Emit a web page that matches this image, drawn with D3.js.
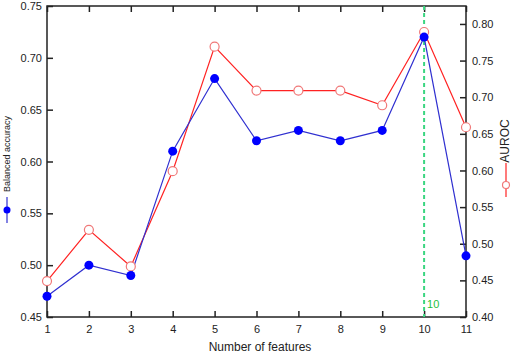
<!DOCTYPE html>
<html><head><meta charset="utf-8">
<script src="https://cdn.jsdelivr.net/npm/d3@7"></script>
<style>body{margin:0;background:#fff}svg{display:block}text{font-family:"Liberation Sans",Arial,sans-serif}</style>
</head><body><svg id="c" width="512" height="356"></svg>
<script>
const features = [1,2,3,4,5,6,7,8,9,10,11];
const balancedAccuracy = [0.47,0.50,0.49,0.61,0.68,0.62,0.63,0.62,0.63,0.72,0.509];
const auroc = [0.449,0.519,0.469,0.599,0.769,0.709,0.709,0.709,0.689,0.789,0.659];
const leftTicks = [0.45,0.50,0.55,0.60,0.65,0.70,0.75];
const rightTicks = [0.40,0.45,0.50,0.55,0.60,0.65,0.70,0.75,0.80];
const bestFeature = 10;

const svg = d3.select("#c");
const L=47,R=466,T=6,B=317;
const x = d3.scaleLinear().domain([1,11]).range([L,R]);
const yL = d3.scaleLinear().domain([0.45,0.75]).range([B,T]);
const yR = d3.scaleLinear().domain([0.40,0.8245]).range([B,T]);

const axCol="#222";
// frame
svg.append("rect").attr("x",L).attr("y",T).attr("width",R-L).attr("height",B-T)
  .attr("fill","none").attr("stroke",axCol).attr("stroke-width",1.5);

// bottom axis
const gx = svg.append("g").attr("transform",`translate(0,${B})`)
  .call(d3.axisBottom(x).tickValues(features).tickFormat(d3.format("d")).tickSizeInner(-6).tickSizeOuter(0).tickPadding(8));
// top ticks
const gt = svg.append("g").attr("transform",`translate(0,${T})`)
  .call(d3.axisTop(x).tickValues(features).tickFormat("").tickSizeInner(-6).tickSizeOuter(0));
const gl = svg.append("g").attr("transform",`translate(${L},0)`)
  .call(d3.axisLeft(yL).tickValues(leftTicks).tickFormat(d3.format(".2f")).tickSizeInner(-6).tickSizeOuter(0).tickPadding(5));
const gr = svg.append("g").attr("transform",`translate(${R},0)`)
  .call(d3.axisRight(yR).tickValues(rightTicks).tickFormat(d3.format(".2f")).tickSizeInner(-6).tickSizeOuter(0).tickPadding(6));
[gx,gt,gl,gr].forEach(g=>{
  g.select(".domain").remove();
  g.selectAll(".tick line").attr("stroke",axCol).attr("stroke-width",1.5);
  g.selectAll(".tick text").attr("fill","#222").style("font-size","11px").style("font-family","'Liberation Sans',Arial,sans-serif");
});

// green dashed line
svg.append("line").attr("x1",x(bestFeature)).attr("x2",x(bestFeature)).attr("y1",T).attr("y2",B)
  .attr("stroke","#3ad680").attr("stroke-width",2).attr("stroke-dasharray","4,3");
svg.append("text").attr("x",x(bestFeature)+3).attr("y",B-9).text(String(bestFeature))
  .attr("fill","#1fbf3a").style("font-size","11px");

// red line
const idx = d3.range(features.length);
svg.append("path").datum(idx).attr("fill","none").attr("stroke","#f22").attr("stroke-width",1.2)
  .attr("d",d3.line().x(i=>x(features[i])).y(i=>yR(auroc[i])));
// blue line
svg.append("path").datum(idx).attr("fill","none").attr("stroke","#3030d0").attr("stroke-width",1.2)
  .attr("d",d3.line().x(i=>x(features[i])).y(i=>yL(balancedAccuracy[i])));
// red markers
svg.selectAll("circle.r").data(idx).join("circle").attr("class","r")
  .attr("cx",i=>x(features[i])).attr("cy",i=>yR(auroc[i])).attr("r",4.5)
  .attr("fill","#fff").attr("stroke","#f07878").attr("stroke-width",1.2);
// blue markers
svg.selectAll("circle.b").data(idx).join("circle").attr("class","b")
  .attr("cx",i=>x(features[i])).attr("cy",i=>yL(balancedAccuracy[i])).attr("r",4.5)
  .attr("fill","#0000ff");

// axis titles
svg.append("text").attr("x",260).attr("y",351).attr("text-anchor","middle")
  .style("font-size","12px").attr("fill","#222").text("Number of features");
svg.append("text").attr("transform","translate(10,154) rotate(-90)").attr("text-anchor","middle")
  .style("font-size","9px").attr("fill","#222").text("Balanced accuracy");
svg.append("line").attr("x1",7).attr("x2",7).attr("y1",197).attr("y2",223).attr("stroke","#3030d0").attr("stroke-width",1.2);
svg.append("circle").attr("cx",7).attr("cy",210).attr("r",3.5).attr("fill","#0000ff");

svg.append("text").attr("transform","translate(509,141) rotate(-90)").attr("text-anchor","middle")
  .style("font-size","12px").attr("fill","#222").text("AUROC");
svg.append("line").attr("x1",506).attr("x2",506).attr("y1",163).attr("y2",197).attr("stroke","#f22").attr("stroke-width",1.2);
svg.append("circle").attr("cx",506).attr("cy",185).attr("r",3.5).attr("fill","#fff").attr("stroke","#f07878").attr("stroke-width",1.2);
</script></body></html>
